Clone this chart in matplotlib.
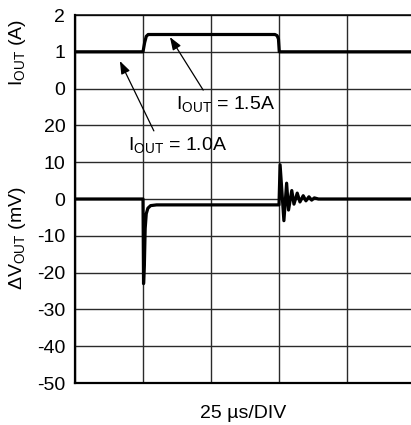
import matplotlib
matplotlib.use("Agg")
import matplotlib.pyplot as plt

plt.rcParams["font.family"] = ["Liberation Sans", "DejaVu Sans"]
plt.rcParams["mathtext.fontset"] = "custom"
plt.rcParams["mathtext.rm"] = "Liberation Sans"
plt.rcParams["mathtext.default"] = "regular"

# time in us (25 us per division)
t_i = [0, 25.0, 25.6, 26.2, 26.9, 30.0, 73.5, 74.3, 74.8, 75.1, 125]
i_out = [1.0, 1.0, 1.25, 1.42, 1.47, 1.47, 1.47, 1.44, 1.35, 1.0, 1.0]

t_v = [0, 25.0, 25.2, 25.5, 25.8, 26.2, 26.8, 27.8, 30.0, 75.0,
       75.4, 76.8, 77.8, 78.5, 79.7, 80.5, 81.7, 82.7, 83.9, 84.9,
       86.0, 87.0, 88.0, 89.5, 125]
dv_out = [0, 0, -23, -18, -8, -4, -2.5, -1.8, -1.6, -1.6,
          9.3, -5.9, 4.3, -3.0, 2.3, -1.4, 1.6, -0.8, 0.9, -0.5,
          0.6, -0.3, 0.3, 0, 0]

v_ticks = [-50, -40, -30, -20, -10, 0, 10, 20]
i_ticks = [0, 1, 2]

fs = 14

fig = plt.figure(figsize=(4.11, 4.25), dpi=100)
ax = fig.add_axes([75 / 411, 42 / 425, 340 / 411, 368 / 425])
ax.set_xlim(0, 125)
ax.set_ylim(-50, 50)
ax.set_xticks([0, 25, 50, 75, 100, 125])
ax.set_xticklabels([])
ax.set_yticks(v_ticks + [30, 40, 50])
ax.set_yticklabels([str(v) for v in v_ticks] + ["", "", ""])
ax.tick_params(length=0, pad=7, labelsize=fs)
ax.grid(True, color="#2a2a2a", linewidth=1.0)
for s in ["left", "bottom"]:
    ax.spines[s].set_linewidth(1.6)
ax.spines["top"].set_linewidth(1.1)
ax.set_axisbelow(True)

ax.plot(t_v, dv_out, color="black", linewidth=2.3, zorder=3)

ax2 = ax.twinx()
ax2.set_ylim(-8, 2)
ax2.set_yticks(i_ticks)
ax2.yaxis.tick_left()
ax2.tick_params(length=0, pad=7, labelsize=fs)
for s in ax2.spines.values():
    s.set_visible(False)
ax2.plot(t_i, i_out, color="black", linewidth=2.3, zorder=3)

arrow = dict(arrowstyle="-|>,head_length=0.55,head_width=0.2", color="black",
             linewidth=0.9, shrinkA=1, shrinkB=0)
ax2.annotate(r"I$_{OUT}$ = 1.5A", xy=(34.9, 1.40), xytext=(37.1, -0.42),
             ha="left", va="center", fontsize=fs,
             arrowprops=dict(arrow, relpos=(0.3, 1.0)))
ax2.annotate(r"I$_{OUT}$ = 1.0A", xy=(16.5, 0.75), xytext=(19.5, -1.53),
             ha="left", va="center", fontsize=fs,
             arrowprops=dict(arrow, relpos=(0.28, 1.0)))

fig.text(18 / 411, 1 - 52 / 425, r"I$_{OUT}$ (A)", rotation=90,
         ha="center", va="center", fontsize=fs)
fig.text(18 / 411, 1 - 238 / 425, r"ΔV$_{OUT}$ (mV)", rotation=90,
         ha="center", va="center", fontsize=fs)
fig.text(243 / 411, 1 - 413 / 425, "25 µs/DIV", ha="center", va="center",
         fontsize=fs)

fig.savefig("out.png", dpi=100)
